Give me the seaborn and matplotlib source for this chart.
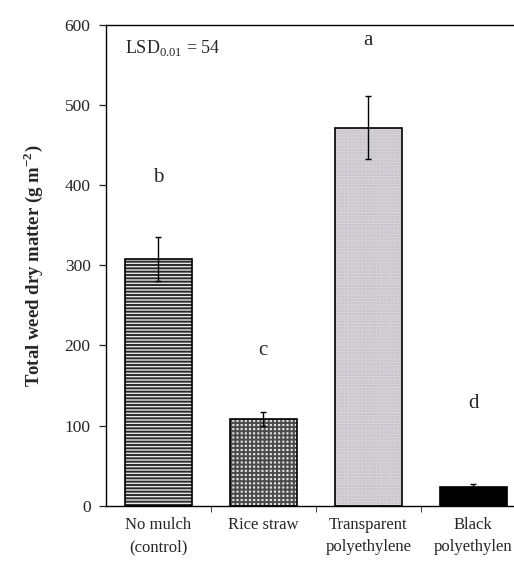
import matplotlib
matplotlib.use("Agg")
import matplotlib.pyplot as plt
import seaborn as sns
import pandas as pd


# ------------------------------------------------
# DATA
# ------------------------------------------------

treatments = ["No mulch\n(control)", "Rice straw", "Transparent\npolyethylene", "Black\npolyethylen"]
dry_matter = [308, 108, 472, 24]
std_err = [28, 9, 39, 3]
letters = ["b", "c", "a", "d"]
letter_y = [410, 194, 581, 127]
y_ticks = [0, 100, 200, 300, 400, 500, 600]

# ------------------------------------------------
# STYLE
# ------------------------------------------------

sns.set_style("ticks")
plt.rcParams["font.family"] = ["Liberation Serif", "DejaVu Serif"]
plt.rcParams["mathtext.fontset"] = "custom"
plt.rcParams["mathtext.rm"] = "Liberation Serif"
plt.rcParams["mathtext.bf"] = "Liberation Serif:bold"
plt.rcParams["hatch.linewidth"] = 1.4

df = pd.DataFrame({"Treatment": treatments, "Dry matter": dry_matter})

fig = plt.figure(figsize=(5.14, 5.67), dpi=100)
ax = fig.add_axes([0.206, 0.108, 0.817, 0.848])

sns.barplot(data=df, x="Treatment", y="Dry matter", color="white",
            width=0.64, edgecolor="black", linewidth=1.2, ax=ax)

# fill / hatch per bar (approximating the printed patterns)
styles = [
    ("#e6e6e6", "-----", "#2a2a2a"),
    ("#e4e4e4", "++++", "#4a4a4a"),
    ("#e8e6ea", "......", "#b4b2b8"),
    ("black", None, "black"),
]
for bar, (fc, hatch, hc) in zip(ax.patches, styles):
    bar.set_facecolor(fc)
    bar.set_edgecolor("black")
    if hatch:
        bar.set_hatch(hatch)
        bar._hatch_color = matplotlib.colors.to_rgba(hc)

ax.errorbar(range(len(treatments)), dry_matter, yerr=std_err, fmt="none",
            ecolor="black", elinewidth=1.0, capsize=2.5, capthick=1.0)

for i, (lt, ly) in enumerate(zip(letters, letter_y)):
    ax.text(i, ly, lt, ha="center", va="center", fontsize=15)

ax.text(-0.32, 571, "LSD$_{0.01}$ = 54", ha="left", va="center", fontsize=13)

ax.set_ylim(0, 600)
ax.set_xlim(-0.5, 3.5)
ax.set_yticks(y_ticks)
ax.tick_params(axis="y", labelsize=12.5, length=5, width=0.9, pad=6, direction="out")
ax.set_xticks([0.5, 1.5, 2.5], minor=True)
ax.tick_params(axis="x", which="major", length=0, labelsize=12, pad=8)
ax.tick_params(axis="x", which="minor", length=4, width=0.6, direction="out")
for lbl in ax.get_xticklabels():
    lbl.set_linespacing(1.55)

ax.set_xlabel("")
ax.set_ylabel("Total weed dry matter (g m$^{\\mathbf{-2}}$)", fontsize=13.5,
              fontweight="bold", labelpad=14)

for s in ax.spines.values():
    s.set_linewidth(1.0)
    s.set_color("black")

fig.savefig("out.png", dpi=100)
